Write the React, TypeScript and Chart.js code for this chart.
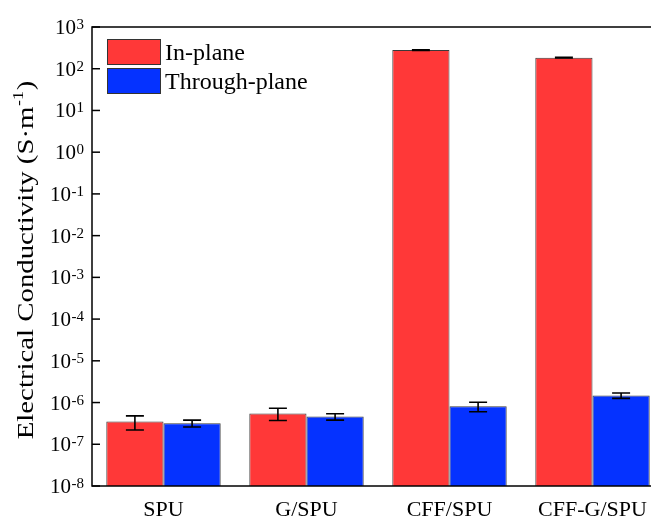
import React, { useEffect, useRef } from 'react';
import { Chart, registerables } from 'chart.js';

Chart.register(...registerables);

const FONT = '"Liberation Serif", "Times New Roman", Times, serif';

const categories = ['SPU', 'G/SPU', 'CFF/SPU', 'CFF-G/SPU'];
const seriesLabels = ['In-plane', 'Through-plane'];
const inPlane = [3.5e-7, 5.5e-7, 280, 184];
const inPlaneErr = [1.3e-7, 1.8e-7, 4, 3];
const throughPlane = [3.2e-7, 4.6e-7, 8.1e-7, 1.48e-6];
const throughPlaneErr = [0.6e-7, 0.8e-7, 2.1e-7, 0.22e-6];
const tickExponents = [3, 2, 1, 0, -1, -2, -3, -4, -5, -6, -7, -8];
const yTitleMain = 'Electrical Conductivity (S·m';
const yTitleSup = '-1';
const yTitleEnd = ')';

const errorsBySeries = [inPlaneErr, throughPlaneErr];
const RED = '#FF3838';
const BLUE = '#0532FF';

const customPlugin = {
  id: 'customDraw',
  afterDatasetsDraw(chart: any) {
    const ctx = chart.ctx as CanvasRenderingContext2D;
    const { left, right, top, bottom } = chart.chartArea;
    const yScale = chart.scales.y;

    ctx.save();
    // error bars
    ctx.strokeStyle = '#000';
    ctx.lineWidth = 1.6;
    chart.data.datasets.forEach((ds: any, di: number) => {
      const meta = chart.getDatasetMeta(di);
      const errs = errorsBySeries[di];
      meta.data.forEach((el: any, i: number) => {
        const v = ds.data[i];
        const e = errs[i];
        const x = el.x;
        const yt = yScale.getPixelForValue(v + e);
        const yb = yScale.getPixelForValue(Math.max(v - e, 1e-9));
        const cap = 9;
        ctx.beginPath();
        ctx.moveTo(x, yt);
        ctx.lineTo(x, yb);
        ctx.moveTo(x - cap, yt);
        ctx.lineTo(x + cap, yt);
        ctx.moveTo(x - cap, yb);
        ctx.lineTo(x + cap, yb);
        ctx.stroke();
      });
    });

    // frame
    ctx.lineWidth = 1.5;
    ctx.strokeRect(left, top, right - left, bottom - top);

    // inward ticks + labels
    ctx.fillStyle = '#000';
    yScale.ticks.forEach((t: any, i: number) => {
      const py = yScale.getPixelForValue(t.value);
      ctx.beginPath();
      ctx.moveTo(left, py);
      ctx.lineTo(left + 8, py);
      ctx.stroke();
      const exp = String(tickExponents[i]);
      ctx.font = `15px ${FONT}`;
      const ew = ctx.measureText(exp).width;
      const xr = left - 8;
      ctx.textAlign = 'left';
      ctx.textBaseline = 'alphabetic';
      ctx.fillText(exp, xr - ew, py + 2);
      ctx.font = `21px ${FONT}`;
      const bw = ctx.measureText('10').width;
      ctx.fillText('10', xr - ew - bw - 0.5, py + 7);
    });

    // y title
    ctx.save();
    ctx.translate(33, 260);
    ctx.rotate(-Math.PI / 2);
    ctx.scale(1.2, 1);
    ctx.font = `24px ${FONT}`;
    const w1 = ctx.measureText(yTitleMain).width;
    const w3 = ctx.measureText(yTitleEnd).width;
    ctx.font = `15px ${FONT}`;
    const w2 = ctx.measureText(yTitleSup).width;
    const total = w1 + w2 + w3 + 1;
    let xs = -total / 2;
    ctx.textAlign = 'left';
    ctx.textBaseline = 'alphabetic';
    ctx.font = `24px ${FONT}`;
    ctx.fillText(yTitleMain, xs, 0);
    xs += w1 + 0.5;
    ctx.font = `15px ${FONT}`;
    ctx.fillText(yTitleSup, xs, -10);
    xs += w2 + 0.5;
    ctx.font = `24px ${FONT}`;
    ctx.fillText(yTitleEnd, xs, 0);
    ctx.restore();

    // legend
    const boxX = 107;
    const boxW = 53;
    const boxH = 25;
    const boxYs = [39, 68];
    chart.data.datasets.forEach((ds: any, di: number) => {
      const by = boxYs[di];
      ctx.fillStyle = ds.backgroundColor;
      ctx.fillRect(boxX, by, boxW, boxH);
      ctx.strokeStyle = '#333';
      ctx.lineWidth = 1;
      ctx.strokeRect(boxX + 0.5, by + 0.5, boxW, boxH);
      ctx.fillStyle = '#000';
      ctx.font = `24px ${FONT}`;
      ctx.textAlign = 'left';
      ctx.textBaseline = 'alphabetic';
      ctx.fillText(ds.label, 165, by + boxH / 2 + 8);
    });
    ctx.restore();
  },
};

export default function App() {
  const canvasRef = useRef<HTMLCanvasElement | null>(null);

  useEffect(() => {
    const canvas = canvasRef.current;
    if (!canvas) return;
    const chart = new Chart(canvas, {
      type: 'bar',
      data: {
        labels: categories,
        datasets: [
          {
            label: seriesLabels[0],
            data: inPlane,
            backgroundColor: RED,
            borderColor: '#3a3a3a',
            borderWidth: 1,
            categoryPercentage: 0.8,
            barPercentage: 1.0,
          },
          {
            label: seriesLabels[1],
            data: throughPlane,
            backgroundColor: BLUE,
            borderColor: '#3a3a3a',
            borderWidth: 1,
            categoryPercentage: 0.8,
            barPercentage: 1.0,
          },
        ],
      },
      options: {
        responsive: false,
        animation: false,
        devicePixelRatio: 1,
        layout: { padding: { top: 27, right: 16, bottom: 0, left: 0 } },
        plugins: {
          legend: { display: false },
          tooltip: { enabled: false },
        },
        scales: {
          x: {
            type: 'category',
            grid: { display: false, drawTicks: false },
            border: { display: false },
            ticks: {
              color: '#000',
              font: { family: FONT, size: 22 },
              padding: 11,
              maxRotation: 0,
            },
            afterFit: (s: any) => {
              s.height = 32;
            },
          },
          y: {
            type: 'logarithmic',
            min: 1e-8,
            max: 1e3,
            grid: { display: false },
            border: { display: false },
            ticks: { display: false },
            afterBuildTicks: (s: any) => {
              s.ticks = tickExponents.map((e) => ({ value: Math.pow(10, e) }));
            },
            afterFit: (s: any) => {
              s.width = 92;
            },
          },
        },
      },
      plugins: [customPlugin],
    });
    return () => chart.destroy();
  }, []);

  return (
    <div
      style={{
        position: 'fixed',
        left: 0,
        top: 0,
        width: 651,
        height: 518,
        overflow: 'hidden',
        background: '#fff',
      }}
    >
      <canvas ref={canvasRef} width={680} height={518} style={{ width: 680, height: 518, display: 'block' }} />
    </div>
  );
}
